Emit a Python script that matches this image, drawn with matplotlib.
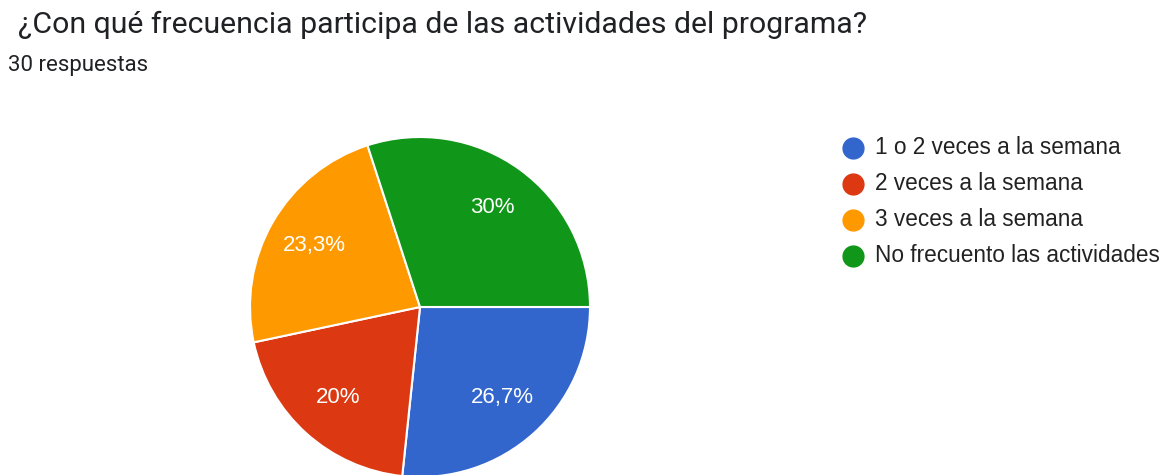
import numpy as np
import matplotlib.pyplot as plt
from matplotlib.lines import Line2D

# survey answers (30 responses)
categories = ["1 o 2 veces a la semana", "2 veces a la semana",
              "3 veces a la semana", "No frecuento las actividades"]
counts = [8, 6, 7, 9]
pct_labels = ["26,7%", "20%", "23,3%", "30%"]
colors = ["#3366cc", "#dc3912", "#ff9900", "#109618"]

W, H = 1173, 475
fig = plt.figure(figsize=(W / 100, H / 100), dpi=100)
fig.patch.set_facecolor("white")

# pie centre (420, 307) px, radius 170 px
cx, cy, r = 420, 307, 170
ax = fig.add_axes([(cx - r) / W, (H - cy - r) / H, 2 * r / W, 2 * r / H])
wedges, _ = ax.pie(counts, colors=colors, startangle=0, counterclock=False,
                   radius=1.0, wedgeprops=dict(edgecolor="white", linewidth=1.5))
ax.set_xlim(-1, 1)
ax.set_ylim(-1, 1)
ax.set_aspect("equal")
ax.axis("off")

total = sum(counts)
ang = 0.0
for c, lab in zip(counts, pct_labels):
    span = 360.0 * c / total
    mid = np.deg2rad(-(ang + span / 2))
    ax.text(0.72 * np.cos(mid), 0.72 * np.sin(mid), lab, color="white",
            fontsize=16, family="Liberation Sans", ha="center", va="center")
    ang += span

fig.text(18 / W, 1 - 25 / H, "¿Con qué frecuencia participa de las actividades del programa?",
         fontsize=21.8, family="Roboto", color="#202124", va="center", ha="left")
fig.text(8 / W, 1 - 65 / H, "30 respuestas", fontsize=16, family="Roboto",
         color="#202124", va="center", ha="left")

# legend drawn by hand: circle + label per row
row_y = [148, 184, 220, 256]
for lab, col, y in zip(categories, colors, row_y):
    fig.add_artist(Line2D([853 / W], [1 - y / H], marker="o", markersize=15,
                          markerfacecolor=col, markeredgecolor=col,
                          linestyle="none", transform=fig.transFigure))
    fig.text(875 / W, 1 - y / H, lab, fontsize=16.3, family="Liberation Sans",
             color="#222222", va="center", ha="left")

fig.savefig("out.png", dpi=100)
